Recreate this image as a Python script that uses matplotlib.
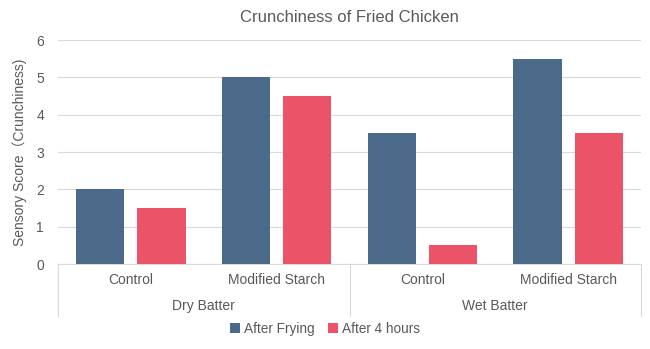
import matplotlib.pyplot as plt
import numpy as np

# --- data ---
groups = ['Dry Batter', 'Wet Batter']
categories = ['Control', 'Modified Starch', 'Control', 'Modified Starch']
after_frying = [2.0, 5.0, 3.5, 5.5]
after_4h = [1.5, 4.5, 0.5, 3.5]

BLUE = '#4B6989'
RED = '#EB5468'
TXT = '#595959'
GRID = '#D9D9D9'

plt.rcParams['font.family'] = ['Liberation Sans', 'Noto Sans CJK SC', 'DejaVu Sans']

fig = plt.figure(figsize=(6.5, 3.49), dpi=100)
ax = fig.add_axes([58 / 650, 85 / 349, 583 / 650, 224 / 349])

x = np.arange(len(categories))
w = 0.33
ax.bar(x - 0.21, after_frying, w, color=BLUE, label='After Frying', zorder=3)
ax.bar(x + 0.21, after_4h, w, color=RED, label='After 4 hours', zorder=3)

ax.set_xlim(-0.5, len(categories) - 0.5)
ax.set_ylim(0, 6)
ax.set_yticks(range(0, 7))
ax.yaxis.grid(True, color=GRID, linewidth=0.8, zorder=0)
ax.set_axisbelow(True)
for s in ['top', 'right', 'left']:
    ax.spines[s].set_visible(False)
ax.spines['bottom'].set_color(GRID)
ax.tick_params(axis='y', length=0, labelsize=10, labelcolor=TXT, pad=10)
ax.set_xticks([])

ax.set_ylabel('Sensory Score（Crunchiness)', fontsize=10, color=TXT, labelpad=7)
ax.set_title('Crunchiness of Fried Chicken', fontsize=12, color=TXT, pad=13)

# multi-level category axis
trans = ax.get_xaxis_transform()
for xb in [-0.5, 1.5, 3.5]:
    ax.plot([xb, xb], [0, -0.232], transform=trans, color=GRID,
            linewidth=0.8, clip_on=False)
for i, c in enumerate(categories):
    ax.text(i, -0.071, c, transform=trans, ha='center', va='center',
            fontsize=10, color=TXT)
for j, g in enumerate(groups):
    ax.text(2 * j + 0.5, -0.1875, g, transform=trans, ha='center', va='center',
            fontsize=10, color=TXT)

fig.legend(loc='center', bbox_to_anchor=(0.5, 20 / 349), ncol=2, frameon=False,
           fontsize=9.8, labelcolor=TXT, handlelength=0.7, handleheight=0.7,
           handletextpad=0.3, columnspacing=1.0)

fig.savefig('out.png', dpi=100)
